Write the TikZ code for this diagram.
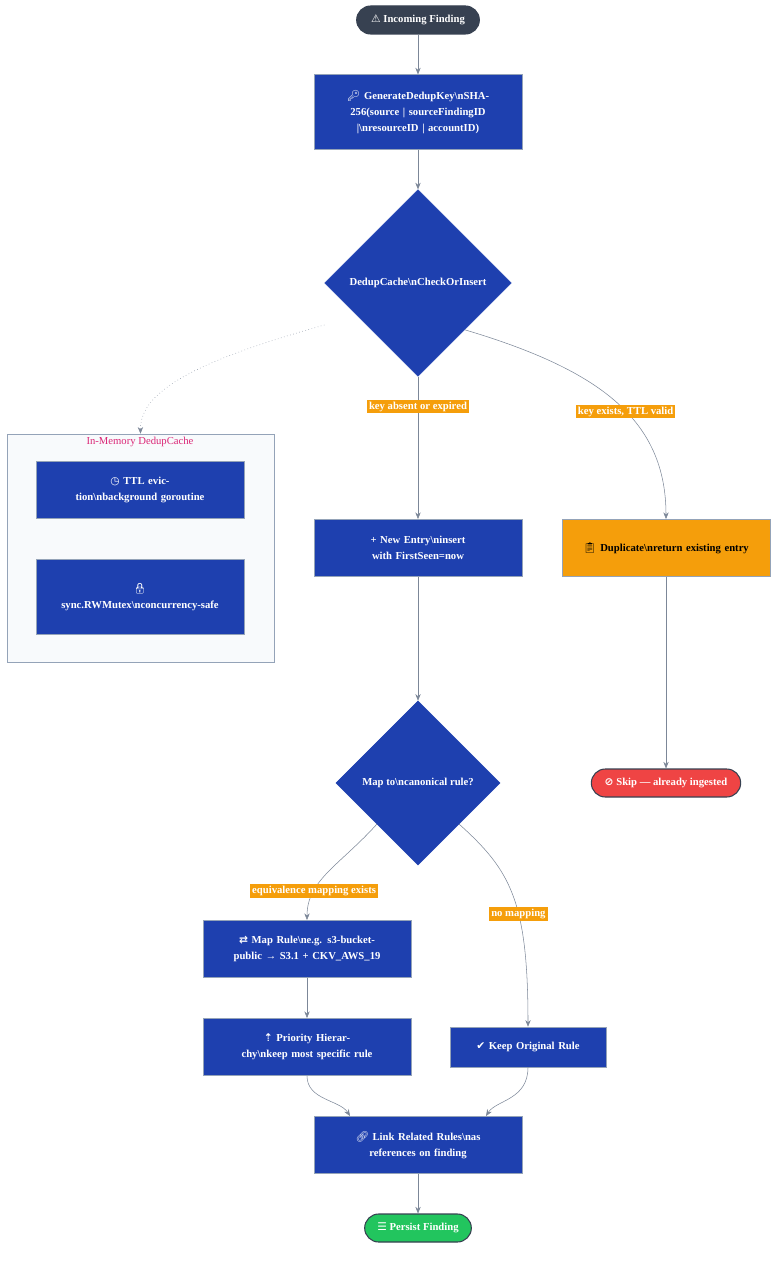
\documentclass[tikz,border=0pt]{standalone}
\usepackage{fontspec}
\setmainfont{Liberation Serif}
\newfontfamily\symfont{DejaVu Sans}
\newfontfamily\emojifont{Noto Emoji}
\usetikzlibrary{shapes.geometric,positioning,arrows.meta}
\definecolor{stepblue}{HTML}{1E40AF}
\definecolor{slate}{HTML}{374151}
\definecolor{edgegray}{HTML}{7C8798}
\definecolor{lblorange}{HTML}{F59E0B}
\definecolor{skipred}{HTML}{EF4444}
\definecolor{okgreen}{HTML}{22C55E}
\definecolor{clusterbg}{HTML}{F8FAFC}
\definecolor{clusterline}{HTML}{94A3B8}
\definecolor{pinktext}{HTML}{DB2777}
\tikzset{
  stepbox/.style={rectangle, draw=clusterline, fill=stepblue, text=white, minimum width=156pt, minimum height=43pt, text width=128pt, align=center, font=\fontsize{8}{12}\selectfont\bfseries},
  pill/.style={rectangle, rounded corners=10.5pt, draw=slate, thick, text=white, minimum height=21pt, font=\fontsize{8}{10}\selectfont\bfseries},
  decide/.style={diamond, draw=stepblue, fill=stepblue, text=white, inner sep=0pt, align=center, font=\fontsize{8}{10}\selectfont\bfseries},
  flow/.style={-{Stealth[length=5pt,width=4pt]}, draw=edgegray, thin},
  tag/.style={fill=lblorange, text=white, inner sep=1.5pt, font=\fontsize{8}{10}\selectfont\bfseries}
}
\begin{document}
\begin{tikzpicture}[x=0.75pt, y=-0.75pt]
    \useasboundingbox (0,0) rectangle (784,1262);

    % Cache cluster
    \node[draw=clusterline, fill=clusterbg, minimum width=200pt, minimum height=171pt] (cache) at (140.5,548) {};
    \node[text=pinktext, font=\fontsize{8}{10}\selectfont] (cachelbl) at (140,442) {In-Memory DedupCache};
    \node[stepbox, minimum height=43pt] (ttl) at (140,490) {{\symfont ◷} TTL eviction\textbackslash nbackground goroutine};
    \node[stepbox, minimum height=56pt] (mutex) at (140,597) {{\emojifont 🔒}\\sync.RWMutex\textbackslash nconcurrency-safe};

    % Main flow
    \node[pill, fill=slate, minimum width=92pt] (start) at (418,20) {{\symfont ⚠} Incoming Finding};
    \node[stepbox, minimum height=56pt] (genkey) at (418,112) {{\emojifont 🔑} GenerateDedupKey\textbackslash nSHA-256(source | sourceFindingID |\textbackslash nresourceID | accountID)};
    \node[decide, minimum width=140pt, minimum height=140pt] (check) at (418,283) {DedupCache\textbackslash nCheckOrInsert};
    \node[stepbox] (newentry) at (418,548) {+ New Entry\textbackslash ninsert with FirstSeen=now};
    \node[stepbox, fill=lblorange, text=black] (dup) at (666,548) {{\emojifont 📋} Duplicate\textbackslash nreturn existing entry};
    \node[decide, minimum width=123pt, minimum height=123pt] (maprule) at (418,783) {Map to\textbackslash ncanonical rule?};
    \node[pill, fill=skipred, minimum width=112pt] (skip) at (666,783) {{\symfont ⊘} Skip — already ingested};
    \node[stepbox] (mapped) at (307,949) {{\symfont ⇄} Map Rule\textbackslash ne.g. s3-bucket-public → S3.1 + CKV\_AWS\_19};
    \node[stepbox] (priority) at (307,1047) {{\symfont ⇡} Priority Hierarchy\textbackslash nkeep most specific rule};
    \node[stepbox, minimum width=116pt, minimum height=30pt, text width=110pt] (keep) at (528,1047) {{\symfont ✔} Keep Original Rule};
    \node[stepbox] (link) at (418,1145) {{\emojifont 🔗} Link Related Rules\textbackslash nas references on finding};
    \node[pill, fill=okgreen, minimum width=80pt] (persist) at (418,1228) {{\symfont ☰} Persist Finding};

    % Connectors
    \draw[flow] (start) -- (genkey);
    \draw[flow] (genkey) -- (check);
    \draw[flow, dotted] (check.west |- 0,325) .. controls (200,360) and (140,390) .. (cache.north);
    \draw[flow] (check) -- node[tag, pos=0.21] {key absent or expired} (newentry);
    \draw[flow] (check.south east) .. controls (600,370) and (666,420) .. node[tag, pos=0.55] {key exists, TTL valid} (dup.north);
    \draw[flow] (newentry) -- (maprule);
    \draw[flow] (dup) -- (skip);
    \draw[flow] (maprule.south west) .. controls (340,865) and (307,880) .. node[tag, pos=0.72] {equivalence mapping exists} (mapped.north);
    \draw[flow] (maprule.south east) .. controls (510,870) and (528,900) .. node[tag, pos=0.6] {no mapping} (keep.north);
    \draw[flow] (mapped) -- (priority);
    \draw[flow] (priority.south) .. controls (307,1100) and (340,1100) .. (link.north -| 350,0);
    \draw[flow] (keep.south) .. controls (528,1100) and (496,1100) .. (link.north -| 486,0);
    \draw[flow] (link) -- (persist);
\end{tikzpicture}
\end{document}
